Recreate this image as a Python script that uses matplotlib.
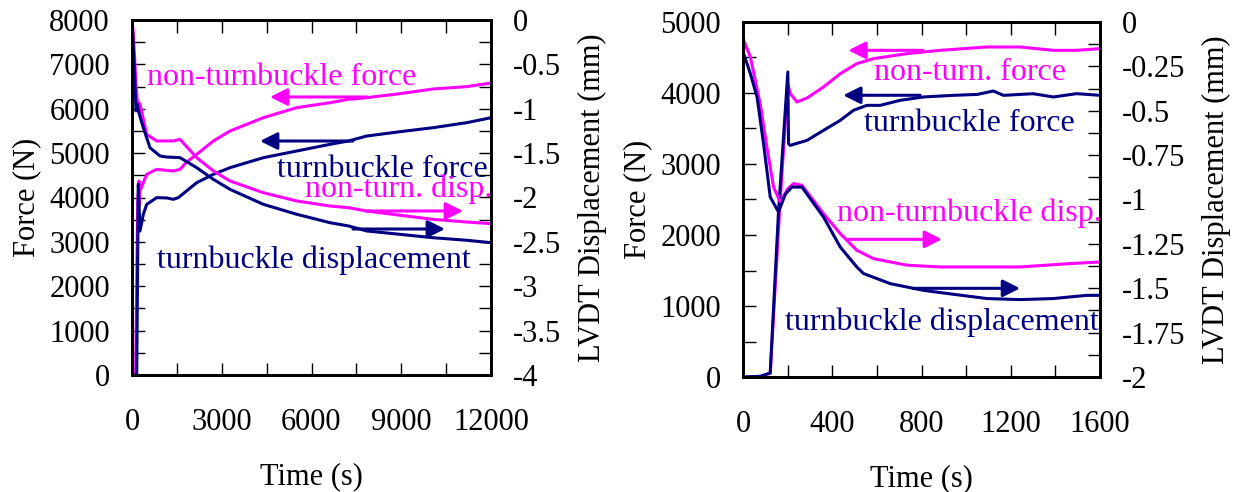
import numpy as np
import matplotlib
matplotlib.use("Agg")
from matplotlib import pyplot as plt
from matplotlib.ticker import MultipleLocator, FuncFormatter

plt.rcParams['font.family'] = ['Liberation Serif', 'DejaVu Serif']
MAG = '#ff00ff'
NAVY = '#000080'
FS = 22
FS_TXT = 23

# ---- left chart (long test, 0-12000 s) ----
L_tb_force_t = [0, 150, 157, 211, 267, 378, 491, 825, 1160, 1382, 1549, 1828, 2163, 2718, 3276, 4390, 5505, 6618, 7230, 7845, 8958, 10061, 11187, 12000]
L_tb_force = [0, 0, 0, 4296, 3245, 3620, 3845, 3997, 3990, 3959, 3997, 4150, 4334, 4522, 4672, 4897, 5048, 5198, 5273, 5385, 5483, 5573, 5686, 5798]
L_nt_force_t = [0, 120, 191, 234, 245, 267, 491, 825, 1382, 1605, 1828, 2163, 2718, 3276, 4390, 5505, 6618, 7230, 7845, 8958, 10061, 11187, 12000]
L_nt_force = [0, 0, 3921, 4372, 3845, 4147, 4522, 4634, 4597, 4634, 4800, 4971, 5273, 5498, 5799, 6024, 6137, 6212, 6250, 6340, 6445, 6498, 6580]
L_tb_disp_t = [0, 78, 134, 178, 245, 378, 602, 936, 1160, 1605, 2163, 2718, 3276, 4390, 5505, 6618, 7230, 7845, 8958, 10061, 11187, 12000]
L_tb_disp = [0, -0.537, -1.025, -0.95, -1.063, -1.213, -1.439, -1.532, -1.544, -1.551, -1.664, -1.795, -1.908, -2.077, -2.189, -2.284, -2.32, -2.377, -2.415, -2.453, -2.482, -2.509]
L_nt_disp_t = [0, 45, 134, 178, 267, 491, 825, 1382, 1605, 2163, 2718, 3276, 4390, 5505, 6618, 7230, 7845, 8958, 10061, 11187, 12000]
L_nt_disp = [0, -0.161, -0.724, -0.913, -0.95, -1.288, -1.363, -1.363, -1.345, -1.551, -1.70, -1.814, -1.946, -2.039, -2.096, -2.115, -2.152, -2.20, -2.246, -2.276, -2.295]

# ---- right chart (short test, 0-1600 s) ----
R_tb_force_t = [0, 77, 122, 159, 201, 204, 212, 287, 361, 436, 495, 555, 615, 704, 809, 943, 1050, 1122, 1167, 1300, 1391, 1496, 1600]
R_tb_force = [0, 10, 56, 2324, 4296, 3287, 3263, 3333, 3474, 3615, 3756, 3826, 3826, 3897, 3944, 3967, 3980, 4028, 3967, 3990, 3944, 3991, 3967]
R_nt_force_t = [0, 77, 122, 167, 201, 212, 242, 287, 361, 436, 510, 585, 734, 884, 1093, 1242, 1391, 1496, 1600]
R_nt_force = [0, 0, 56, 2500, 4132, 3991, 3873, 3930, 4085, 4272, 4413, 4484, 4554, 4601, 4648, 4648, 4601, 4601, 4625]
R_tb_disp_t = [0, 3, 33, 63, 92, 122, 159, 190, 219, 264, 361, 436, 510, 540, 660, 809, 943, 1093, 1242, 1391, 1540, 1600]
R_tb_disp = [0, -0.178, -0.291, -0.423, -0.685, -0.986, -1.07, -0.97, -0.93, -0.93, -1.099, -1.268, -1.38, -1.417, -1.474, -1.512, -1.534, -1.558, -1.564, -1.558, -1.54, -1.54]
R_nt_disp_t = [0, 3, 33, 77, 107, 137, 167, 200, 227, 264, 361, 436, 510, 585, 734, 884, 1242, 1467, 1600]
R_nt_disp = [0, -0.103, -0.197, -0.46, -0.704, -0.93, -1.014, -0.94, -0.91, -0.92, -1.080, -1.192, -1.286, -1.333, -1.37, -1.38, -1.38, -1.361, -1.352]

# labels: (text, x, y in force units, colour)
L_labels = [("non-turnbuckle force", 4997, 6693, MAG),
            ("turnbuckle force", 8357, 4642, NAVY),
            ("non-turn. disp.", 8908, 4192, MAG),
            ("turnbuckle displacement", 6067, 2592, NAVY)]
L_arrows = [((7855, 6265), (4613, 6265), MAG),
            ((7387, 5273), (4279, 5273), NAVY),
            ((7855, 3696), (11064, 3696), MAG),
            ((7387, 3290), (10462, 3290), NAVY)]
R_labels = [("non-turn. force", 1016, 4291, MAG),
            ("turnbuckle force", 1013, 3573, NAVY),
            ("non-turnbuckle disp.", 1013, 2305, MAG),
            ("turnbuckle displacement", 890, 770, NAVY)]
R_arrows = [((807, 4601), (472, 4601), MAG),
            ((794, 3968), (449, 3968), NAVY),
            ((467, 1939), (892, 1939), MAG),
            ((762, 1249), (1242, 1249), NAVY)]


def fmt(v, pos):
    return '%g' % v


def style(ax):
    for s in ax.spines.values():
        s.set_linewidth(2)
    ax.tick_params(which='both', direction='in', length=9, width=1, labelsize=FS,
                   top=True, right=False)


def panel(rect, xmax, xmaj, fmax, fmaj, dmin, dmaj, dminor, data, labels, arrows):
    ax = fig.add_axes(rect)
    ax2 = ax.twinx()
    tbf_t, tbf, ntf_t, ntf, tbd_t, tbd, ntd_t, ntd = data
    ax.plot(ntf_t, ntf, color=MAG, lw=2.2, zorder=3)
    ax.plot(tbf_t, tbf, color=NAVY, lw=2.2, zorder=3)
    ax2.plot(ntd_t, ntd, color=MAG, lw=2.2)
    ax2.plot(tbd_t, tbd, color=NAVY, lw=2.2)
    ax.set_xlim(0, xmax)
    ax.set_ylim(0, fmax)
    ax2.set_ylim(dmin, 0)
    ax.xaxis.set_major_locator(MultipleLocator(xmaj))
    ax.xaxis.set_minor_locator(MultipleLocator(xmaj / 2))
    ax.yaxis.set_major_locator(MultipleLocator(fmaj))
    ax.yaxis.set_minor_locator(MultipleLocator(fmaj / 2))
    ax2.yaxis.set_major_locator(MultipleLocator(dmaj))
    ax2.yaxis.set_minor_locator(MultipleLocator(dminor))
    ax2.yaxis.set_major_formatter(FuncFormatter(fmt))
    style(ax)
    style(ax2)
    ax.tick_params(axis='x', pad=24)
    ax.tick_params(axis='y', pad=16)
    ax2.tick_params(axis='y', which='both', right=True, left=False, top=False, pad=16)
    ax2.tick_params(axis='x', which='both', top=False, bottom=False)
    ax.set_xlabel("Time (s)", fontsize=FS, labelpad=18)
    ax.set_ylabel("Force (N)", fontsize=FS, labelpad=6)
    ax2.set_ylabel("LVDT Displacement (mm)", fontsize=FS, labelpad=12)
    for txt, x, y, c in labels:
        ax.text(x, y, txt, color=c, fontsize=FS_TXT, ha='center', va='center', zorder=5)
    for tail, head, c in arrows:
        ax.annotate('', xy=head, xytext=tail,
                    arrowprops=dict(arrowstyle='-|>', color=c, lw=2.2, mutation_scale=26,
                                    shrinkA=0, shrinkB=0), zorder=5)
    return ax, ax2


fig = plt.figure(figsize=(12.35, 4.92), dpi=100)
panel([132 / 1235, 1 - 375 / 492, 359 / 1235, 355 / 492], 12000, 3000, 8000, 1000, -4, 0.5, 0.25,
      (L_tb_force_t, L_tb_force, L_nt_force_t, L_nt_force, L_tb_disp_t, L_tb_disp, L_nt_disp_t, L_nt_disp),
      L_labels, L_arrows)
panel([743 / 1235, 1 - 377 / 492, 357 / 1235, 355 / 492], 1600, 400, 5000, 1000, -2, 0.25, 0.125,
      (R_tb_force_t, R_tb_force, R_nt_force_t, R_nt_force, R_tb_disp_t, R_tb_disp, R_nt_disp_t, R_nt_disp),
      R_labels, R_arrows)
fig.savefig("out.png", dpi=100)
